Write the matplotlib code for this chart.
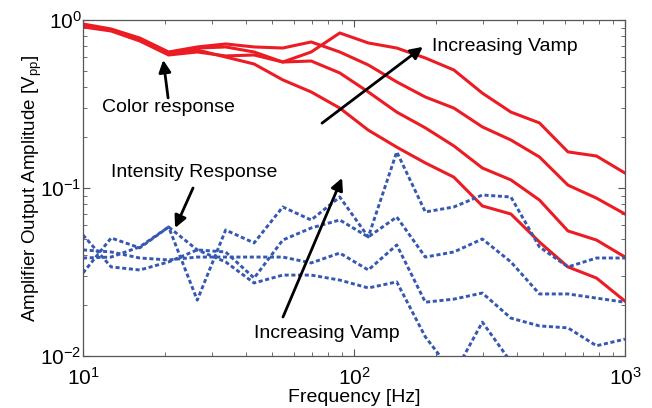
import matplotlib
matplotlib.use("Agg")
import matplotlib.pyplot as plt

plt.rcParams['font.family'] = ['Liberation Sans', 'DejaVu Sans']
plt.rcParams['mathtext.fontset'] = 'custom'
plt.rcParams['mathtext.rm'] = 'Liberation Sans'
plt.rcParams['mathtext.it'] = 'Liberation Sans:italic'
plt.rcParams['mathtext.bf'] = 'Liberation Sans:bold'

# frequency grid [Hz]
freq = [10, 12.7, 16.2, 20.7, 26.4, 33.6, 42.8, 54.6, 69.5, 88.6,
        112.9, 143.8, 183.3, 233.6, 297.6, 379.3, 483.3, 615.8, 784.8, 1000]

# colour response, four drive amplitudes [Vpp]
color1 = [0.921, 0.872, 0.760, 0.628, 0.663, 0.602, 0.547, 0.440, 0.373, 0.299,
          0.221, 0.175, 0.141, 0.116, 0.0782, 0.070, 0.0477, 0.0339, 0.0291, 0.0212]
color2 = [0.934, 0.872, 0.760, 0.636, 0.681, 0.691, 0.645, 0.562, 0.570, 0.484,
          0.373, 0.283, 0.228, 0.178, 0.1315, 0.1117, 0.0848, 0.0555, 0.049, 0.0388]
color3 = [0.947, 0.884, 0.781, 0.645, 0.691, 0.720, 0.691, 0.681, 0.740, 0.645,
          0.540, 0.428, 0.348, 0.299, 0.231, 0.193, 0.153, 0.104, 0.087, 0.070]
color4 = [0.909, 0.860, 0.750, 0.619, 0.645, 0.611, 0.619, 0.562, 0.645, 0.837,
          0.730, 0.681, 0.594, 0.504, 0.367, 0.283, 0.244, 0.164, 0.155, 0.1227]

# intensity response [Vpp]
inten1 = [0.0312, 0.0504, 0.0440, 0.0586, 0.0215, 0.0562, 0.0471, 0.0771, 0.0645, 0.0884,
          0.0511, 0.164, 0.072, 0.0771, 0.0908, 0.0884, 0.0446, 0.0339, 0.0383, 0.0383]
inten2 = [0.0525, 0.0339, 0.0325, 0.0363, 0.0428, 0.0416, 0.0291, 0.049, 0.0578, 0.0645,
          0.0511, 0.0672, 0.0388, 0.0416, 0.0497, 0.0363, 0.0234, 0.0234, 0.0221, 0.0209]
inten3 = [0.0428, 0.0416, 0.0383, 0.0373, 0.0388, 0.0388, 0.0388, 0.0388, 0.0358, 0.0410,
          0.0325, 0.0458, 0.0209, 0.0218, 0.0237, 0.0168, 0.0151, 0.0147, 0.0115, 0.0126]
inten4 = [0.0383, 0.0388, 0.0446, 0.0586, 0.0428, 0.0363, 0.0272, 0.0303, 0.0303, 0.0283,
          0.0254, 0.0276, 0.0130, 0.0078, 0.0159, 0.0092, 0.0063, 0.0055, 0.0059, 0.0055]

red = '#ec1c24'
blue = '#3558b0'

fig = plt.figure(figsize=(6.52, 4.08), dpi=100)
ax = fig.add_axes([0.1273, 0.1275, 0.8313, 0.8235])

for c in [color1, color2, color3, color4]:
    ax.plot(freq, c, color=red, lw=2.2)
for b in [inten1, inten2, inten3, inten4]:
    ax.plot(freq, b, color=blue, lw=2.1, linestyle=(0, (1.4, 0.9)))

ax.set_xscale('log')
ax.set_yscale('log')
ax.set_xlim(10, 1000)
ax.set_ylim(0.01, 1)

ax.tick_params(which='both', direction='in', top=True, right=True,
               colors='#555555', labelcolor='black', labelsize=15)
ax.tick_params(which='major', length=5)
ax.tick_params(which='minor', length=3)
ax.tick_params(axis='x', which='major', pad=8)
ax.tick_params(axis='y', which='major', pad=1)
for s in ax.spines.values():
    s.set_color('#555555')
    s.set_linewidth(0.9)

ax.set_xlabel('Frequency [Hz]', fontsize=14, labelpad=0)
ax.set_ylabel('Amplifier Output Amplitude [V$_{\\mathrm{pp}}$]', fontsize=13.5)
ax.yaxis.set_label_coords(-0.072, 0.5)

arrow = dict(arrowstyle='-|>', color='black', lw=2, mutation_scale=18, shrinkA=0, shrinkB=0)
tf = ax.transAxes

ax.text(0.157, 0.741, 'Color response', transform=tf, ha='center', va='center', fontsize=14)
ax.annotate('', xy=(0.148, 0.881), xytext=(0.157, 0.768), xycoords=tf, textcoords=tf, arrowprops=arrow)

ax.text(0.644, 0.920, 'Increasing Vamp', transform=tf, ha='left', va='center', fontsize=14)
ax.annotate('', xy=(0.627, 0.920), xytext=(0.441, 0.693), xycoords=tf, textcoords=tf, arrowprops=arrow)

ax.text(0.205, 0.545, 'Intensity Response', transform=tf, ha='center', va='center', fontsize=14)
ax.annotate('', xy=(0.170, 0.381), xytext=(0.203, 0.500), xycoords=tf, textcoords=tf, arrowprops=arrow)

ax.text(0.450, 0.068, 'Increasing Vamp', transform=tf, ha='center', va='center', fontsize=14)
ax.annotate('', xy=(0.478, 0.530), xytext=(0.369, 0.116), xycoords=tf, textcoords=tf, arrowprops=arrow)

fig.savefig('out.png', dpi=100)
